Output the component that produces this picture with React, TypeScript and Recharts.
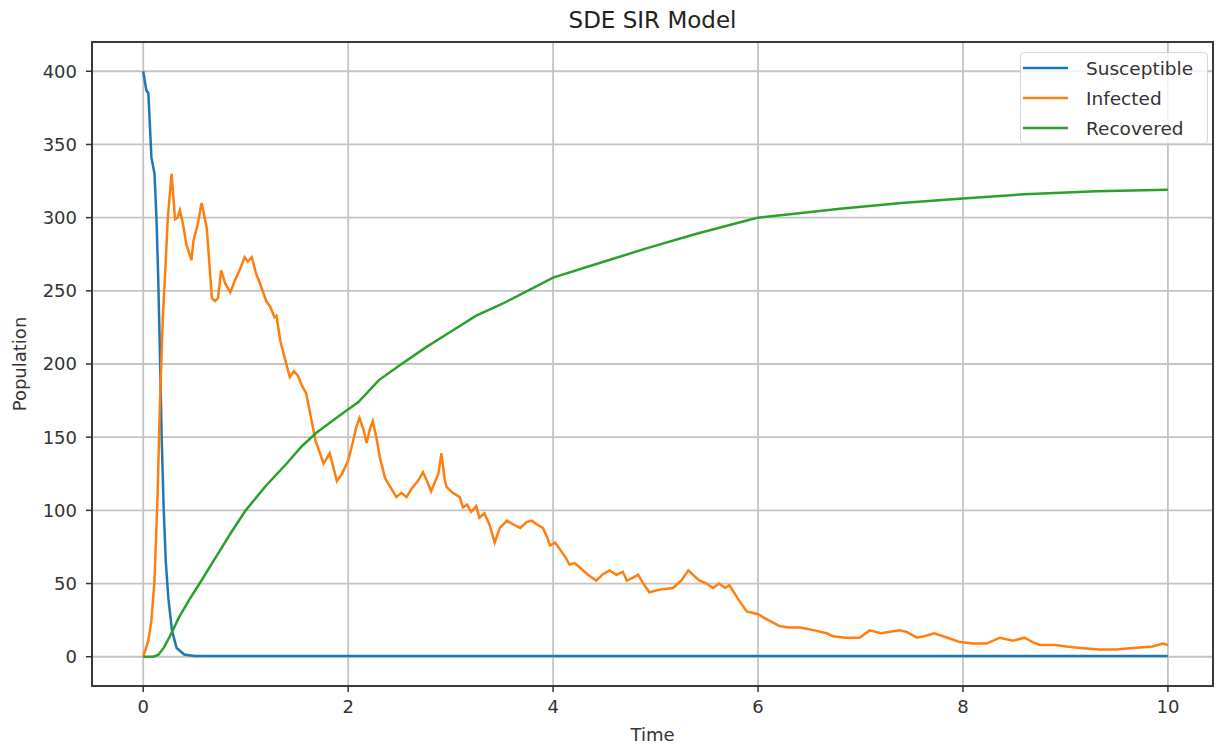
import React from 'react';
import { LineChart, Line, XAxis, YAxis, CartesianGrid, Legend, ReferenceArea } from 'recharts';

const seriesNames = ['Susceptible', 'Infected', 'Recovered'];

const susTime = [0, 0.03, 0.05, 0.08, 0.11, 0.13, 0.147, 0.165, 0.18, 0.2, 0.22, 0.245, 0.28, 0.326, 0.4, 0.5, 1, 2, 4, 6, 8, 10];
const susVals = [400, 387, 385, 341, 330, 298, 257, 200, 150, 100, 65, 40, 18, 6, 1.5, 0.5, 0.5, 0.5, 0.5, 0.5, 0.5, 0.5];

const infTime = [
  0, 0.05, 0.08, 0.11, 0.14, 0.16, 0.19, 0.21, 0.24, 0.277, 0.31, 0.335, 0.358, 0.39, 0.42, 0.47, 0.49, 0.53, 0.57, 0.6,
  0.62, 0.67, 0.7, 0.73, 0.76, 0.8, 0.85, 0.9, 0.94, 0.99, 1.02, 1.06, 1.1, 1.14, 1.2, 1.24, 1.28, 1.3, 1.34, 1.37,
  1.43, 1.47, 1.51, 1.55, 1.59, 1.63, 1.68, 1.72, 1.76, 1.82, 1.89, 1.94, 2.0, 2.04, 2.08, 2.11, 2.15, 2.18, 2.21, 2.24,
  2.28, 2.31, 2.36, 2.42, 2.47, 2.52, 2.57, 2.62, 2.68, 2.73, 2.77, 2.81, 2.85, 2.88, 2.91, 2.94, 2.96, 3.02, 3.09, 3.12,
  3.16, 3.2, 3.25, 3.28, 3.33, 3.38, 3.43, 3.48, 3.55, 3.62, 3.68, 3.74, 3.79, 3.85, 3.9, 3.94, 3.97, 4.02, 4.08, 4.12,
  4.16, 4.21, 4.26, 4.34, 4.42, 4.48, 4.55, 4.62, 4.68, 4.72, 4.78, 4.83, 4.88, 4.94, 5.05, 5.17, 5.25, 5.32, 5.38, 5.43,
  5.5, 5.56, 5.62, 5.68, 5.72, 5.8, 5.89, 6.0, 6.1, 6.21, 6.3, 6.41, 6.55, 6.67, 6.73, 6.85, 6.99, 7.09, 7.2, 7.38,
  7.45, 7.55, 7.62, 7.72, 7.85, 7.97, 8.1, 8.23, 8.36, 8.49, 8.6, 8.68, 8.75, 8.9, 9.01, 9.15, 9.33, 9.5, 9.66, 9.85,
  9.95, 10,
];
const infVals = [
  0, 11, 25, 52, 110, 166, 230, 257, 300, 330, 299, 300, 305, 295, 282, 271, 284, 295, 310, 300,
  293, 245, 243, 245, 264, 255, 249, 258, 264, 273, 270, 273, 262, 255, 243, 239, 232, 233, 215, 207,
  191, 195, 192, 185, 180, 166, 148, 140, 132, 139, 120, 125, 134, 145, 157, 163, 155, 146, 155, 161,
  148, 136, 122, 115, 109, 112, 109, 115, 120, 126, 120, 113, 120, 125, 139, 122, 116, 112, 109, 102,
  104, 99, 103, 95, 98, 90, 78, 88, 93, 90, 88, 92, 93, 90, 88, 82, 76, 78, 72, 68,
  63, 64, 61, 56, 52, 56, 59, 56, 58, 52, 54, 56, 50, 44, 46, 47, 52, 59, 55, 52,
  50, 47, 50, 47, 49, 40, 31, 29, 25, 21, 20, 20, 18, 16, 14, 13, 13, 18, 16, 18,
  17, 13, 14, 16, 13, 10, 9, 9, 13, 11, 13, 10, 8, 8, 7, 6, 5, 5, 6, 7,
  9, 8,
];

const recTime = [0, 0.1, 0.15, 0.2, 0.26, 0.35, 0.45, 0.55, 0.7, 0.85, 1.0, 1.2, 1.4, 1.55, 1.69, 1.9, 2.1, 2.3, 2.5, 2.75, 3.0, 3.25, 3.5, 3.75, 4.0, 4.5, 4.91, 5.4, 5.89, 6.0, 6.4, 6.8, 7.4, 8.0, 8.6, 9.3, 10];
const recVals = [0, 0, 1.5, 6, 14, 27, 39, 50, 67, 84, 100, 117, 132, 144, 153, 164, 174, 189, 199, 211, 222, 233, 241, 250, 259, 270, 279, 289, 298, 300, 303, 306, 310, 313, 316, 318, 319];

const xTicks = [0, 2, 4, 6, 8, 10];
const yTicks = [0, 50, 100, 150, 200, 250, 300, 350, 400];

const toRows = (ts: number[], vs: number[]) => ts.map((t, i) => ({ t, v: vs[i] }));
const susData = toRows(susTime, susVals);
const infData = toRows(infTime, infVals);
const recData = toRows(recTime, recVals);

const FONT = '"DejaVu Sans", sans-serif';

const renderLegend = (props: any) => {
  const items = [...(props.payload || [])].sort(
    (a: any, b: any) => seriesNames.indexOf(a.value) - seriesNames.indexOf(b.value),
  );
  return (
    <div
      style={{
        border: '1.5px solid #d6d6d6',
        borderRadius: 4,
        background: 'rgba(255,255,255,0.8)',
        width: 188,
        boxSizing: 'border-box',
        paddingLeft: 2,
        fontFamily: FONT,
      }}
    >
      {items.map((entry: any) => (
        <div key={entry.value} style={{ display: 'flex', alignItems: 'center', height: 30 }}>
          <svg width={45} height={4}>
            <line x1={0} x2={45} y1={2} y2={2} stroke={entry.color} strokeWidth={2.5} />
          </svg>
          <span style={{ marginLeft: 18, fontSize: 18.5, color: '#333' }}>{entry.value}</span>
        </div>
      ))}
    </div>
  );
};

const App: React.FC = () => {
  return (
    <div style={{ position: 'absolute', left: 0, top: 0, width: 1217, height: 746, background: '#fff', fontFamily: FONT }}>
      <div style={{ position: 'absolute', left: 92, top: 7, width: 1121, textAlign: 'center', fontSize: 23, color: '#222' }}>
        SDE SIR Model
      </div>
      <LineChart width={1217} height={746} margin={{ top: 42, right: 4, bottom: 0, left: 0 }}>
        <CartesianGrid stroke="#c4c4c4" strokeWidth={1.8} />
        <XAxis
          type="number"
          dataKey="t"
          domain={[-0.5, 10.44]}
          ticks={xTicks}
          allowDataOverflow
          height={60}
          axisLine={false}
          tickLine={{ stroke: '#333', strokeWidth: 1.5 }}
          tickSize={6}
          tickMargin={8}
          tick={{ fill: '#333', fontSize: 18, fontFamily: FONT }}
          label={{ value: 'Time', position: 'insideBottom', offset: 5, style: { fill: '#333', fontSize: 18, fontFamily: FONT } }}
        />
        <YAxis
          type="number"
          domain={[-20, 420]}
          ticks={yTicks}
          allowDataOverflow
          width={92}
          axisLine={false}
          tickLine={{ stroke: '#333', strokeWidth: 1.5 }}
          tickSize={6}
          tickMargin={9}
          tick={{ fill: '#333', fontSize: 18, fontFamily: FONT }}
          label={{
            value: 'Population',
            angle: -90,
            position: 'insideLeft',
            offset: 20,
            style: { textAnchor: 'middle', fill: '#333', fontSize: 18, fontFamily: FONT },
          }}
        />
        <ReferenceArea x1={-0.5} x2={10.44} y1={-20} y2={420} fill="none" stroke="#3a3a3a" strokeWidth={2} />
        <Line data={susData} dataKey="v" name={seriesNames[0]} type="linear" stroke="#1f77b4" strokeWidth={2.5} dot={false} isAnimationActive={false} />
        <Line data={infData} dataKey="v" name={seriesNames[1]} type="linear" stroke="#ff7f0e" strokeWidth={2.5} dot={false} isAnimationActive={false} />
        <Line data={recData} dataKey="v" name={seriesNames[2]} type="linear" stroke="#2ca02c" strokeWidth={2.5} dot={false} isAnimationActive={false} />
        <Legend
          layout="vertical"
          align="center"
          verticalAlign="middle"
          content={renderLegend}
          wrapperStyle={{ top: 52, left: 1020, width: 188 }}
        />
      </LineChart>
    </div>
  );
};

export default App;
